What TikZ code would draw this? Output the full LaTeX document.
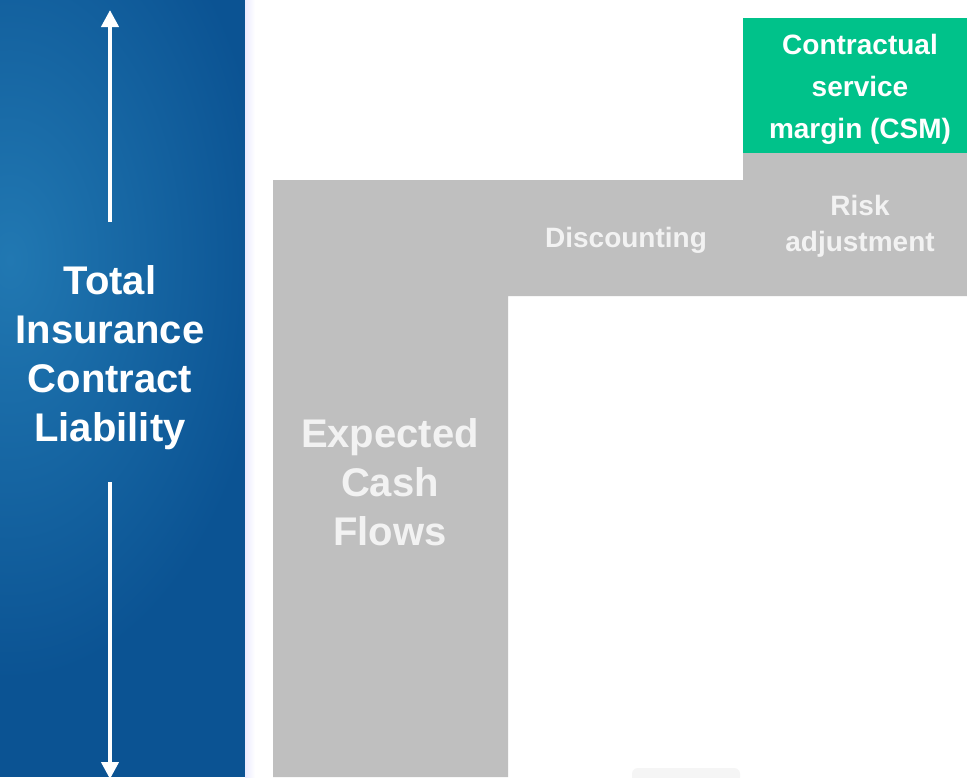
\documentclass[tikz,border=0pt]{standalone}
\usepackage{fontspec}
\setmainfont{Liberation Sans}
\usetikzlibrary{positioning,calc,arrows.meta}
\definecolor{panelblue}{RGB}{11,83,147}
\definecolor{panellight}{RGB}{33,120,178}
\definecolor{boxgray}{RGB}{191,191,191}
\definecolor{boxtext}{RGB}{242,242,242}
\definecolor{csmgreen}{RGB}{0,194,138}
\tikzset{>=Triangle,
  bigtext/.style={font=\fontsize{40}{49}\selectfont\bfseries,align=center},
  smalltext/.style={font=\fontsize{28}{36}\selectfont\bfseries,align=center,text=boxtext},
  whitearrow/.style={white,line width=4pt,-{Triangle[length=17pt,width=17pt]}}}

\begin{document}
\begin{tikzpicture}[x=1pt,y=-1pt]
\useasboundingbox (0,0) rectangle (967,777);
\fill[white] (0,0) rectangle (967,777);
% left panel
\fill[panelblue] (0,0) rectangle (245,777);
\begin{scope}
  \clip (0,0) rectangle (245,777);
  \shade[inner color=panellight,outer color=panelblue] (10,260) ellipse[x radius=260,y radius=420];
\end{scope}
\shade[left color=blue!8,right color=white] (245,0) rectangle (255,777);
\coordinate (uptip) at (110,10);
\coordinate (upstart) at (110,222);
\coordinate (downtip) at (110,779);
\coordinate (downstart) at (110,482);
\node[bigtext,text=white] (total) at (110,358) {Total\\Insurance\\Contract\\Liability};
\draw[whitearrow] (upstart) -- (uptip);
\draw[whitearrow] (downstart) -- (downtip);
% faint shape at the bottom
\fill[gray!8,rounded corners=6pt] (632,768) rectangle (740,790);
% building blocks
\fill[boxgray] (273,777) -- (273,180) -- (743,180) -- (743,153) -- (967,153)
  -- (967,296) -- (508,296) -- (508,777) -- cycle;
\fill[csmgreen] (743,18) rectangle (967,153);
\node[bigtext,text=boxtext] (ecf) at (390,482) {Expected\\Cash\\Flows};
\node[smalltext] (disc) at (626,240) {Discounting};
\node[smalltext] (risk) at (860,226) {Risk\\adjustment};
\node[smalltext,text=white,font=\fontsize{28}{42}\selectfont\bfseries] (csm) at (860,89)
  {Contractual\\service\\margin (CSM)};
\end{tikzpicture}
\end{document}
